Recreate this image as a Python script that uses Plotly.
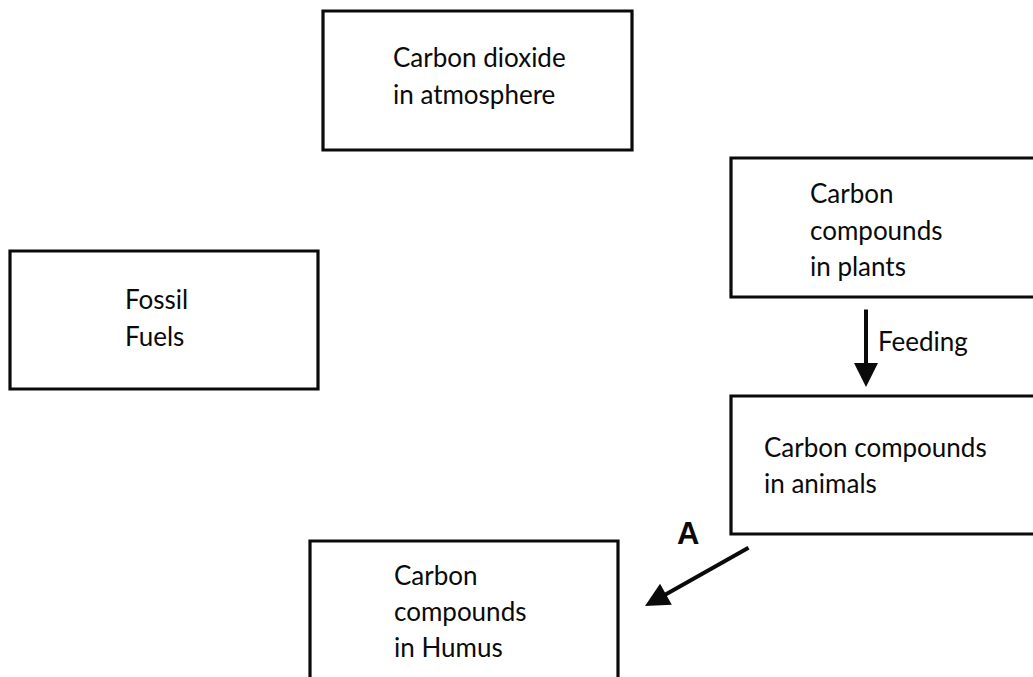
import plotly.graph_objects as go

W, H = 1033, 677

# Box labels (each entry is a list of text lines)
box_labels = [
    ["Carbon dioxide", "in atmosphere"],
    ["Carbon", "compounds", "in plants"],
    ["Fossil", "Fuels"],
    ["Carbon compounds", "in animals"],
    ["Carbon", "compounds", "in Humus"],
]
# Box extents in pixel coordinates (x0, x1, y0, y1), y measured from top
box_x0 = [323, 731, 10, 731, 310]
box_x1 = [632, 1040, 318, 1040, 618]
box_y0 = [11, 158, 251, 396, 541]
box_y1 = [150, 297, 389, 534, 690]
# text anchor (left x, first line y)
text_x = [391, 808, 123, 762, 392]
text_y = [57, 193, 299, 447, 575]
line_gap = [37, 36.5, 37, 36, 36]

# Arrows: (tail x, tail y) -> (head x, head y)
arrow_labels = ["Feeding", "A"]
arrow_tail_x = [866, 750]
arrow_tail_y = [308, 547]
arrow_head_x = [866, 645]
arrow_head_y = [387, 606]
label_x = [876, 688]
label_y = [341, 533]

FONT = "Lato, Open Sans, sans-serif"
FS = 26

fig = go.Figure()
shapes = []
annotations = []
for i, lines in enumerate(box_labels):
    shapes.append(dict(type="rect", xref="x", yref="y",
                       x0=box_x0[i], x1=box_x1[i], y0=box_y0[i], y1=box_y1[i],
                       line=dict(color="#0a0a0a", width=3.2), fillcolor="rgba(0,0,0,0)"))
    for j, t in enumerate(lines):
        annotations.append(dict(x=text_x[i], y=text_y[i] + j * line_gap[i], xref="x", yref="y",
                                text=t, showarrow=False, xanchor="left", yanchor="middle",
                                font=dict(family=FONT, size=FS, color="#0a0a0a")))

for k in range(len(arrow_labels)):
    annotations.append(dict(x=arrow_head_x[k], y=arrow_head_y[k], xref="x", yref="y",
                            ax=arrow_tail_x[k], ay=arrow_tail_y[k], axref="x", ayref="y",
                            text="", showarrow=True, arrowhead=2, arrowsize=1.2,
                            arrowwidth=4, arrowcolor="#0a0a0a", standoff=0))

annotations.append(dict(x=label_x[0], y=label_y[0], xref="x", yref="y", text=arrow_labels[0],
                        showarrow=False, xanchor="left", yanchor="middle",
                        font=dict(family=FONT, size=FS, color="#0a0a0a")))
annotations.append(dict(x=label_x[1], y=label_y[1], xref="x", yref="y", text="<b>A</b>",
                        showarrow=False, xanchor="center", yanchor="middle",
                        font=dict(family="Liberation Sans, Arial, sans-serif", size=31, color="#0a0a0a")))

# invisible trace to establish axes
fig.add_trace(go.Scatter(x=[0, W], y=[0, H], mode="markers", marker=dict(opacity=0),
                         hoverinfo="skip", showlegend=False))

fig.update_layout(
    width=W, height=H, margin=dict(l=0, r=0, t=0, b=0),
    paper_bgcolor="white", plot_bgcolor="white",
    xaxis=dict(range=[0, W], visible=False, fixedrange=True),
    yaxis=dict(range=[H, 0], visible=False, fixedrange=True),
    shapes=shapes, annotations=annotations, showlegend=False,
)

fig.write_html("out.html", config={"displayModeBar": False},
               post_script="document.body.style.margin='0';document.body.style.overflow='hidden';")
